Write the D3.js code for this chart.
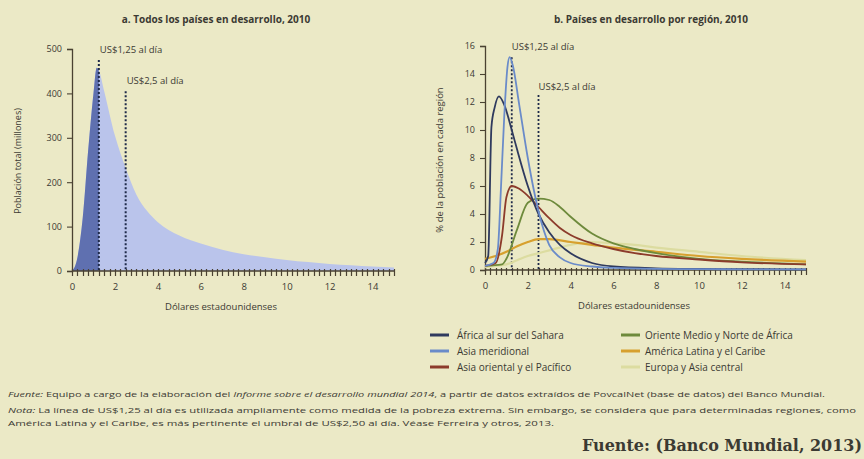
<!DOCTYPE html>
<html><head><meta charset="utf-8">
<script src="https://cdn.jsdelivr.net/npm/d3@7"></script>
<style>
html,body{margin:0;padding:0;background:#ebe9c6;}
svg{display:block;}
text{fill:#3b3a33;}
</style></head><body>
<svg id="c" width="864" height="459"></svg>
<script>
// ---------- DATA ----------
const xTicks = [0,2,4,6,8,10,12,14];
const xMinorTicks = [0,0.25,0.5,0.75,1,1.25,1.5,1.75,2,2.25,2.5,2.75,3,3.25,3.5,3.75,4,4.25,4.5,4.75,5,5.25,5.5,5.75,6,6.25,6.5,6.75,7,7.25,7.5,7.75,8,8.25,8.5,8.75,9,9.25,9.5,9.75,10,10.25,10.5,10.75,11,11.25,11.5,11.75,12,12.25,12.5,12.75,13,13.25,13.5,13.75,14,14.25,14.5,14.75,15];
const yTicksA = [0,100,200,300,400,500];
const yTicksB = [0,2,4,6,8,10,12,14,16];
const povertyLines = [1.25, 2.5];
const povertyLabels = ["US$1,25 al día", "US$2,5 al día"];

// Panel a: total population (millions) by daily income (US$)
const totalX = [0,0.25,0.5,0.75,1.0,1.15,1.25,1.5,2.0,2.5,3,3.5,4,5,6,7,8,9,10,11,12,13,14,15];
const totalY = [0,30,120,270,400,458,452,405,305,232,172,135,110,80,62,48,38,31,25,20,16,13,10,8];

// Panel b: % of population in each region by daily income
const regionNames = ["África al sur del Sahara","Asia meridional","Asia oriental y el Pacífico",
  "Oriente Medio y Norte de África","América Latina y el Caribe","Europa y Asia central"];
const regionColors = ["#2f3a5e","#6a8bc9","#8c3b2b","#6e8a3c","#d7a02e","#dcdca0"];
const ssaX = [0,0.15,0.3,0.45,0.65,0.9,1.25,1.5,2,2.5,3,3.5,4,5,6,8,10,12,15];
const ssaY = [0.5,1.0,10.2,11.6,12.4,11.8,10,8.6,6,4,2.7,1.8,1.2,0.5,0.25,0.12,0.08,0.06,0.05];
const sasX = [0,0.4,0.6,0.75,0.9,1.05,1.15,1.3,1.6,2,2.5,3,3.5,4,5,6,8,10,12,15];
const sasY = [0.3,0.5,1.5,6,11,14.5,15.2,14.6,11.8,8,4.2,1.8,0.9,0.5,0.25,0.15,0.08,0.06,0.05,0.04];
const eapX = [0,0.5,0.8,1.0,1.25,1.6,2,2.5,3,3.5,4,5,6,7,8,10,12,15];
const eapY = [0.3,0.5,2.5,5.2,6,5.8,5.3,4.5,3.7,3,2.5,1.9,1.5,1.2,1,0.75,0.55,0.4];
const menaX = [0,0.8,1,1.5,2,2.5,3,3.5,4,5,6,7,8,10,12,15];
const menaY = [0.3,0.4,0.8,2.9,4.8,5.1,5.0,4.5,3.8,2.6,1.9,1.5,1.2,0.8,0.6,0.4];
const lacX = [0,0.5,1,1.5,2,2.5,3,4,5,6,8,10,12,15];
const lacY = [0.8,1.0,1.3,1.7,2.0,2.2,2.2,2.0,1.8,1.6,1.3,1.0,0.8,0.6];
const ecaX = [0,0.5,1,1.5,2,2.5,3,4,5,6,7,8,10,12,15];
const ecaY = [0.2,0.3,0.4,0.7,1.0,1.2,1.4,1.8,2.0,1.9,1.8,1.6,1.3,1.0,0.7];
const regionX = [ssaX,sasX,eapX,menaX,lacX,ecaX];
const regionY = [ssaY,sasY,eapY,menaY,lacY,ecaY];

// ---------- DRAW ----------
const svg = d3.select("#c");
const FONT = "'Open Sans', 'Liberation Sans', sans-serif";
const NARROW = "'Liberation Sans Narrow', 'Open Sans', sans-serif";
const AX = "#4a4232";

function axes(g, x, y, yTicks){
  const y0 = y(0);
  const p = d3.path();
  xMinorTicks.forEach(t=>{ const xx = Math.round(x(t))+0.5; p.moveTo(xx,y0-2); p.lineTo(xx,y0+5); });
  g.append("path").attr("d",p.toString()).attr("stroke",AX).attr("stroke-width",1.2).attr("fill","none");
  g.append("line").attr("x1",x(0)).attr("x2",x(15)).attr("y1",y0).attr("y2",y0)
    .attr("stroke",AX).attr("stroke-width",1.5);
  const xl = d3.axisBottom(x).tickValues(xTicks).tickSize(0).tickPadding(12);
  g.append("g").attr("transform",`translate(0,${y0})`).call(xl)
    .call(s=>{s.select(".domain").remove();s.selectAll("text").attr("font-family",FONT).attr("font-size",9.5).attr("fill","#48463a");});
  const ya = d3.axisLeft(y).tickValues(yTicks).tickSize(5).tickPadding(5);
  g.append("g").attr("transform",`translate(${x(0)},0)`).call(ya)
    .call(s=>{s.select(".domain").attr("stroke",AX).attr("stroke-width",1.3);s.selectAll(".tick line").attr("stroke",AX).attr("stroke-width",1.1);
      s.selectAll("text").attr("font-family",FONT).attr("font-size",9).attr("fill","#48463a");});
}

// ---- Panel a ----
const xA = d3.scaleLinear([0,15],[72,394]);
const yA = d3.scaleLinear([0,500],[271,49]);
const gA = svg.append("g");
const totData = totalX.map((v,i)=>[v,totalY[i]]);
const areaA = d3.area().x(d=>xA(d[0])).y0(yA(0)).y1(d=>yA(d[1])).curve(d3.curveMonotoneX);
gA.append("path").attr("d",areaA(totData)).attr("fill","#bac4eb");
svg.append("clipPath").attr("id","clipDark").append("rect")
  .attr("x",xA(0)).attr("y",yA(500)).attr("width",xA(1.25)-xA(0)).attr("height",yA(0)-yA(500));
gA.append("path").attr("d",areaA(totData)).attr("fill","#5f70b0").attr("clip-path","url(#clipDark)");
axes(gA,xA,yA,yTicksA);

const lineTopA = [yA(475), yA(405)];
povertyLines.forEach((p,i)=>{
  gA.append("line").attr("x1",xA(p)).attr("x2",xA(p)).attr("y1",lineTopA[i]).attr("y2",yA(0))
    .attr("stroke","#1f2a4a").attr("stroke-width",2).attr("stroke-dasharray","2,2");
  gA.append("text").attr("x",xA(p)+1).attr("y",lineTopA[i]-7).attr("font-family",FONT)
    .attr("font-size",9.5).text(povertyLabels[i]);
});
gA.append("text").attr("x",216).attr("y",23).attr("text-anchor","middle").attr("font-family",FONT)
  .attr("font-size",10).attr("font-weight","bold").text("a. Todos los países en desarrollo, 2010");
gA.append("text").attr("x",221).attr("y",310).attr("text-anchor","middle").attr("font-family",FONT)
  .attr("font-size",9.5).text("Dólares estadounidenses");
gA.append("text").attr("transform","translate(21,161) rotate(-90)").attr("text-anchor","middle")
  .attr("font-family",FONT).attr("font-size",9).text("Población total (millones)");

// ---- Panel b ----
const xB = d3.scaleLinear([0,15],[485,806]);
const yB = d3.scaleLinear([0,16],[270,46]);
const gB = svg.append("g");
axes(gB,xB,yB,yTicksB);
const lineTopB = [yB(15.2), yB(12.5)];
povertyLines.forEach((p,i)=>{
  gB.append("line").attr("x1",xB(p)).attr("x2",xB(p)).attr("y1",lineTopB[i]).attr("y2",yB(0))
    .attr("stroke","#1f2a4a").attr("stroke-width",1.8).attr("stroke-dasharray","2,2");
  gB.append("text").attr("x",xB(p)).attr("y",[50,90][i]).attr("font-family",FONT)
    .attr("font-size",9.5).text(povertyLabels[i]);
});
const lineB = d3.line().x(d=>xB(d[0])).y(d=>yB(d[1])).curve(d3.curveMonotoneX);
[5,4,3,2,0,1].forEach(k=>{
  const data = regionX[k].map((v,i)=>[v,regionY[k][i]]);
  gB.append("path").attr("d",lineB(data)).attr("fill","none").attr("stroke",regionColors[k])
    .attr("stroke-width",k>=4?2.2:1.8).attr("stroke-linejoin","round");
});
gB.append("text").attr("x",651).attr("y",23).attr("text-anchor","middle").attr("font-family",FONT)
  .attr("font-size",10).attr("font-weight","bold").text("b. Países en desarrollo por región, 2010");
gB.append("text").attr("x",634).attr("y",309).attr("text-anchor","middle").attr("font-family",FONT)
  .attr("font-size",9.5).text("Dólares estadounidenses");
gB.append("text").attr("transform","translate(443,160) rotate(-90)").attr("text-anchor","middle")
  .attr("font-family",FONT).attr("font-size",9.5).text("% de la población en cada región");

// legend
const legX = [430,621], legTx = [457,645], legY = [335,351,367];
regionNames.forEach((n,i)=>{
  const c = Math.floor(i/3), r = i%3;
  svg.append("line").attr("x1",legX[c]).attr("x2",legX[c]+19).attr("y1",legY[r]).attr("y2",legY[r])
    .attr("stroke",regionColors[i]).attr("stroke-width",3);
  svg.append("text").attr("x",legTx[c]).attr("y",legY[r]+3.5).attr("font-family",FONT)
    .attr("font-size",10).text(n);
});

// footer
const f1 = svg.append("text").attr("x",8).attr("y",397).attr("font-family",NARROW).attr("font-size",7.8)
  .attr("textLength",817).attr("lengthAdjust","spacingAndGlyphs");
f1.append("tspan").attr("font-style","italic").text("Fuente: ");
f1.append("tspan").text("Equipo a cargo de la elaboración del ");
f1.append("tspan").attr("font-style","italic").text("Informe sobre el desarrollo mundial 2014");
f1.append("tspan").text(", a partir de datos extraídos de PovcalNet (base de datos) del Banco Mundial.");
const f2 = svg.append("text").attr("x",8).attr("y",413).attr("font-family",NARROW).attr("font-size",7.8)
  .attr("textLength",848).attr("lengthAdjust","spacingAndGlyphs");
f2.append("tspan").attr("font-style","italic").text("Nota: ");
f2.append("tspan").text("La línea de US$1,25 al día es utilizada ampliamente como medida de la pobreza extrema. Sin embargo, se considera que para determinadas regiones, como");
svg.append("text").attr("x",8).attr("y",426).attr("font-family",NARROW).attr("font-size",7.8)
  .attr("textLength",546).attr("lengthAdjust","spacingAndGlyphs")
  .text("América Latina y el Caribe, es más pertinente el umbral de US$2,50 al día. Véase Ferreira y otros, 2013.");
svg.append("text").attr("x",862).attr("y",451).attr("text-anchor","end").attr("font-family","'DejaVu Serif', serif")
  .attr("font-size",16).attr("font-weight","bold").attr("fill","#2a2a26")
  .attr("textLength",280).attr("lengthAdjust","spacingAndGlyphs").text("Fuente: (Banco Mundial, 2013)");
</script>
</body></html>
